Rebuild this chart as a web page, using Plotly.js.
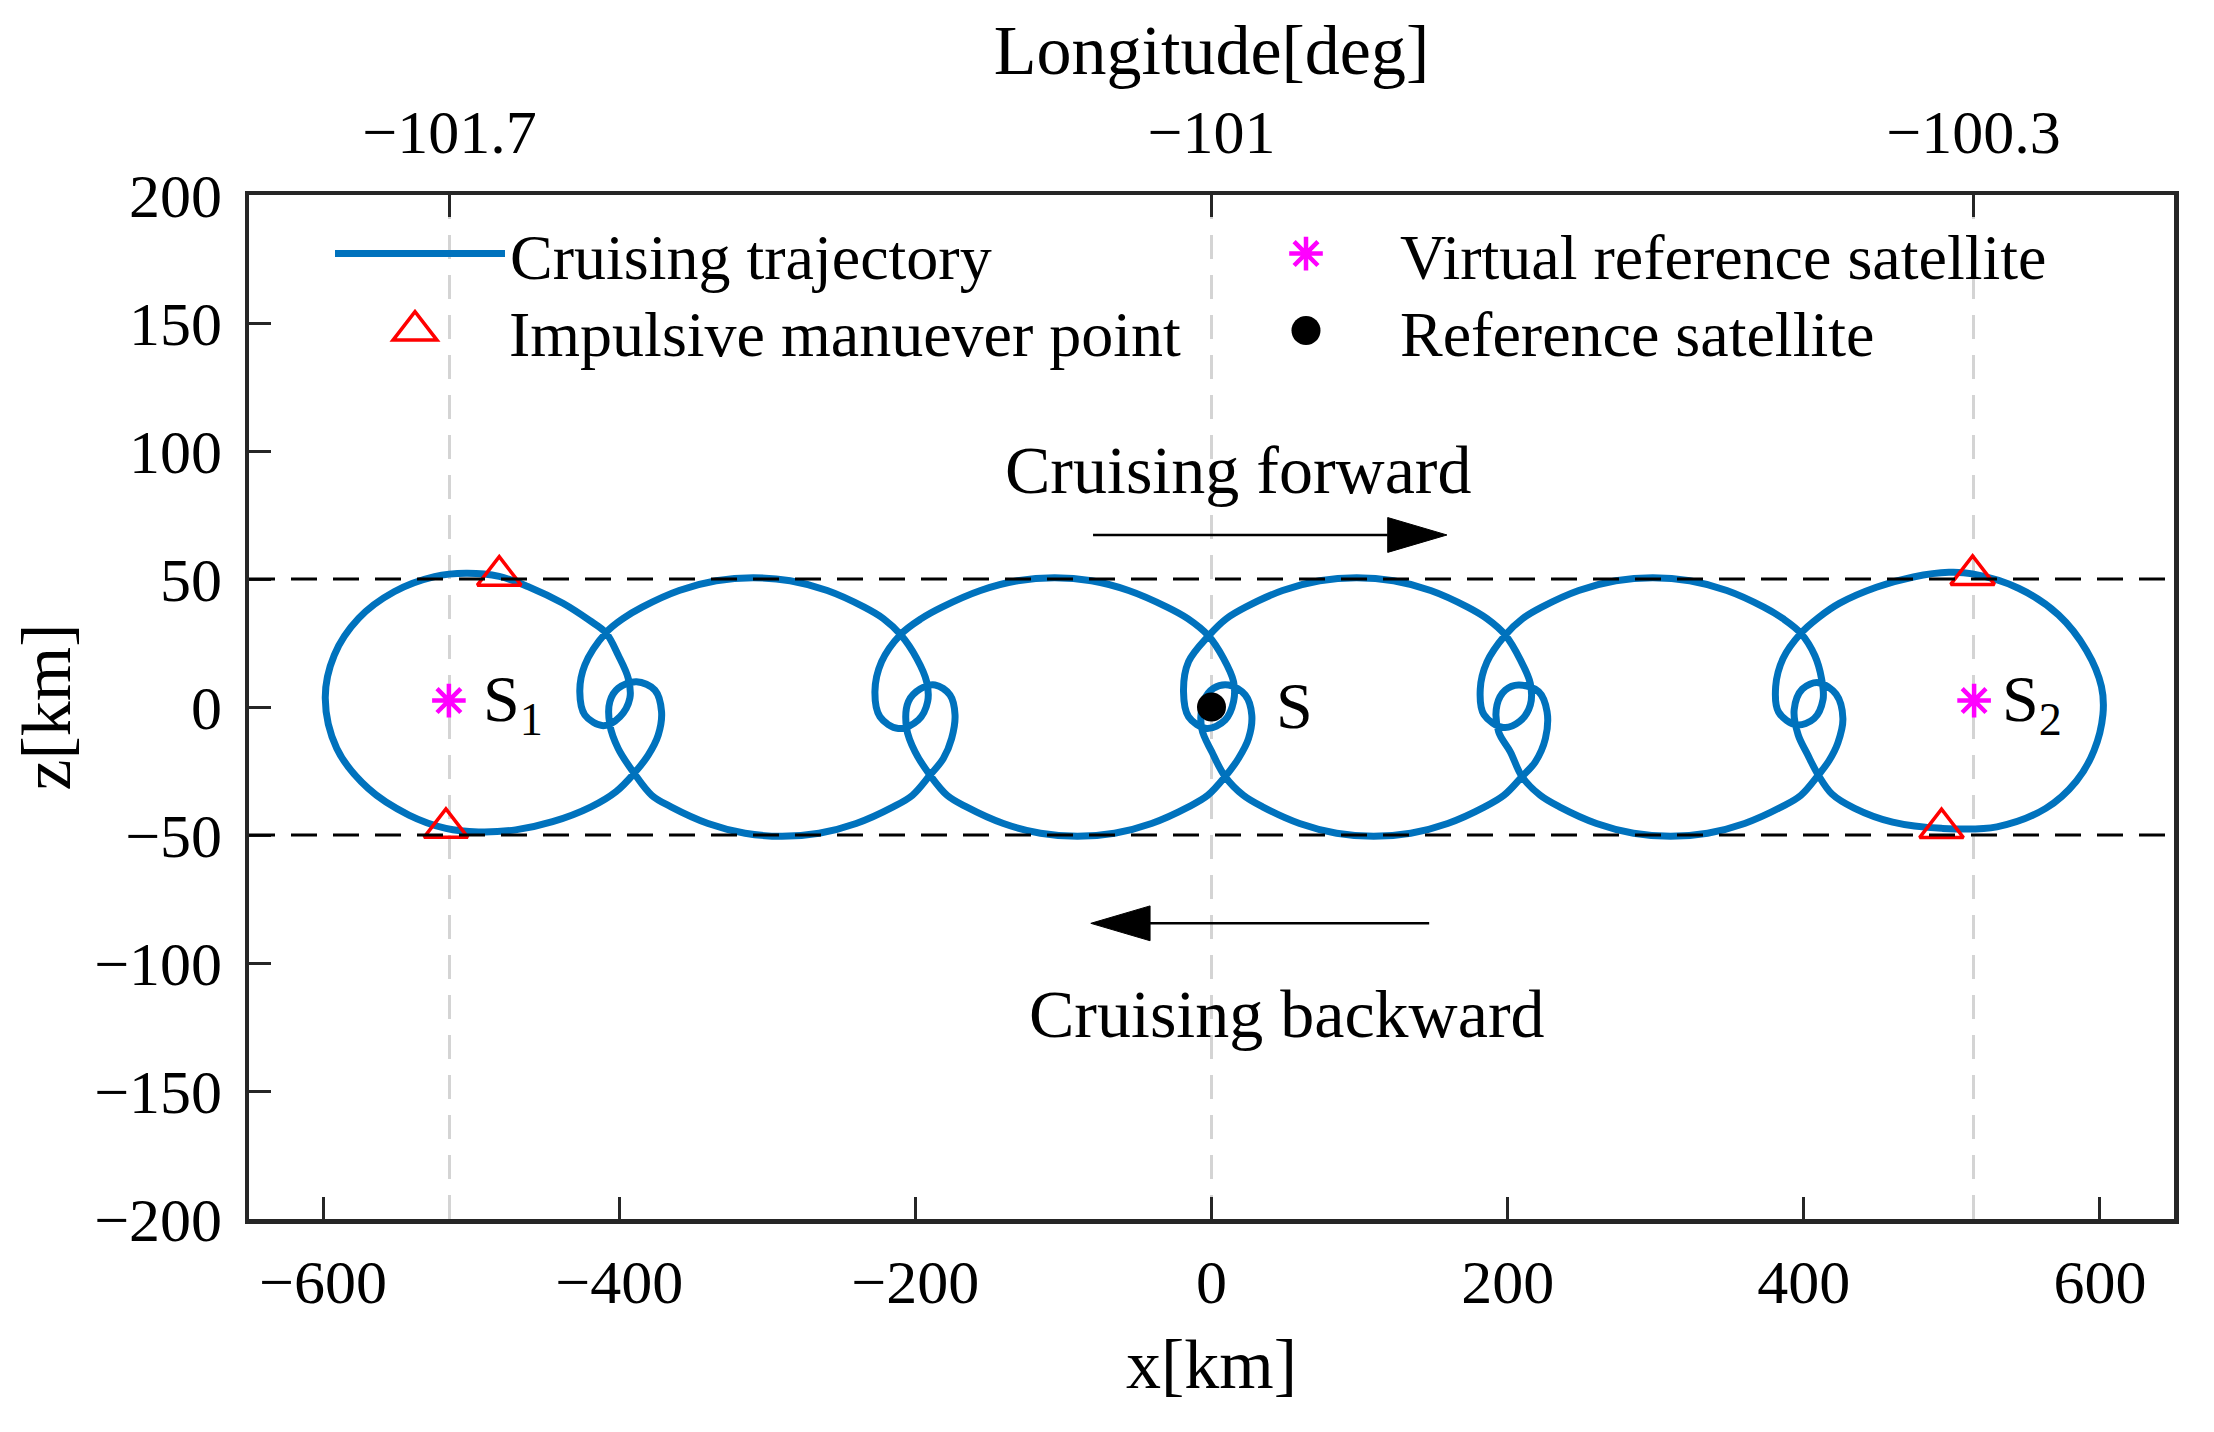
<!DOCTYPE html>
<html><head><meta charset="utf-8">
<script src="https://cdn.plot.ly/plotly-3.0.1.min.js"></script>
<style>body{margin:0;background:#fff}</style>
</head><body>
<div id="chart" style="width:2214px;height:1432px"></div>
<script>
// ---- trajectory as [x km, z km] ----
const leftEnd   = [[-517,-47.4],[-542,-42.2],[-569.5,-31.8],[-590.7,-16.2],[-598.5,3.4],[-592.4,20.3],[-576,34.6],[-552,45],[-524.7,50.9],[-503.4,52.2],[-481,51],[-460.6,46.8],[-438,40.5],[-420,33.8],[-409,29]];
const upLoop1   = [[-400.7,20.3],[-393.9,11.2],[-392.8,3.4],[-399.5,-3.8],[-410.8,-7.3],[-423.2,-3.1],[-426.6,6.0],[-423.2,16.4],[-409,29]];
const topArc2   = [[-397.5,34.5],[-384.5,39],[-359.5,45.5],[-334.5,49.3],[-309.5,50.5],[-284.5,49.3],[-259.5,45.5],[-234.5,39],[-221.5,34.5],[-210,28.3]];
const upLoop2   = [[-199.1,19.0],[-192.4,9.9],[-191.7,2.1],[-198,-5.1],[-211.5,-8.4],[-223.9,-3.8],[-227.3,6.0],[-222.8,17.7],[-210,28.3]];
const topArc3   = [[-196,34.5],[-182,39],[-156,45.5],[-131,49.3],[-106,50.5],[-81,49.3],[-56,45.5],[-30,39],[-16,34.5],[-2,27.8]];
const upLoop3   = [[8.1,19.0],[14.9,9.9],[14.9,2.1],[9.2,-5.1],[-3.2,-8.4],[-15.5,-3.8],[-18.9,6.0],[-15.5,17.7],[-2,27.8]];
const topArc4   = [[10,34.5],[23,39],[48,45.5],[73,49.3],[98,50.5],[123,49.3],[148,45.5],[173,39],[186,34.5],[198.4,28.1]];
const upLoop4   = [[208.6,18.4],[215.3,9.2],[215.3,0.8],[208,-5.7],[197,-8],[184,-3],[181.5,7],[186,17.5],[198.4,28.1]];
const topArc5   = [[210,34.5],[223,39],[248,45.5],[273,49.3],[298,50.5],[323,49.3],[348,45.5],[373,39],[386,34.5],[398,28.8]];
const upLoop5   = [[407.5,20],[412,11],[413,3],[407,-4.5],[395,-7],[383,-2],[381,8],[386,19],[398,28.8]];
const rightEnd  = [[410,35],[424,40.5],[449,46.8],[474,50.8],[498,52.6],[514,52],[545,46.4],[572,36],[591,22],[601,8],[602,-3],[596,-17],[584,-29],[563.4,-39.6],[530.4,-46.8],[493,-47.4],[460,-45],[434,-39.5],[419,-34],[409.8,-26.6]];
const lowLoop5  = [[402.5,-18.5],[396.2,-10.9],[393.5,-1],[399,7],[409.8,9.5],[421.8,5],[426.4,-4.5],[423,-14],[417,-21],[409.8,-26.6]];
const botArc5   = [[398,-34.5],[385,-39],[360,-45.5],[335,-49.3],[310,-50.5],[285,-49.3],[260,-45.5],[235,-39],[222,-34.5],[209.7,-27.2]];
const lowLoop4  = [[201.8,-17.5],[193.9,-9.7],[192.8,0.8],[198.4,6.6],[207.4,8.6],[220.9,6.0],[226.6,-1.8],[225.5,-12.3],[218.7,-21.4],[209.7,-27.2]];
const botArc4   = [[197.5,-34.5],[184.5,-39],[159.5,-45.5],[134.5,-49.3],[109.5,-50.5],[84.5,-49.3],[59.5,-45.5],[34.5,-39],[21.5,-34.5],[9.2,-27.2]];
const lowLoop3  = [[0.2,-17.5],[-6.6,-8.4],[-5.4,2.1],[1.4,7.3],[11.5,8.6],[22.8,4.7],[27.2,-3.1],[25,-12.3],[18.2,-20.1],[9.2,-27.2]];
const botArc3   = [[-2.5,-34.5],[-15.5,-39],[-40.5,-45.5],[-65.5,-49.3],[-90.5,-50.5],[-115.5,-49.3],[-140.5,-45.5],[-165.5,-39],[-178.5,-34.5],[-190.1,-26.6]];
const lowLoop2  = [[-200.2,-17.5],[-205.9,-8.4],[-204.7,2.1],[-196.8,7.0],[-186.7,8.6],[-176.6,4.7],[-173.2,-3.1],[-175.5,-12.3],[-181.1,-20.1],[-190.1,-26.6]];
const botArc2   = [[-202,-34.5],[-215,-39],[-240,-45.5],[-265,-49.3],[-290,-50.5],[-315,-49.3],[-340,-45.5],[-365,-39],[-378,-34.5],[-389.9,-25.9]];
const lowLoop1  = [[-400.7,-16.2],[-406.3,-7.0],[-406.3,2.1],[-400.7,7.3],[-388.3,9.9],[-375.9,6.6],[-371.4,-1.8],[-373.6,-10.9],[-380.4,-18.8],[-389.9,-25.9]];
const botArc1   = [[-402,-33],[-419,-39],[-445,-44.8],[-470,-48],[-495,-48.8],[-517,-47.4]];

// ---- point markers ----
const maneuverX = [-481, -517, 514, 493];
const maneuverZ = [51.3, -47.2, 51.6, -47.3];
const virtualX  = [-515, 515];
const virtualZ  = [2.5, 2.5];
const refX      = [0];
const refZ      = [0];

// ---- labels / ticks ----
const satLabels = ['S<sub>1</sub>', 'S', 'S<sub>2</sub>'];
const satLabelX = [-472, 56, 554];
const satLabelZ = [1.5, 0.5, 1.5];
const xTicks    = [-600, -400, -200, 0, 200, 400, 600];
const zTicks    = [-200, -150, -100, -50, 0, 50, 100, 150, 200];
const lonTicks  = [-101.7, -101, -100.3];
const lonTickText = ['\u2212101.7', '\u2212101', '\u2212100.3'];
const boundaryZ = [50, -50];
const arrowTailX = [-80, 147];
const arrowTipX  = [159, -81.5];
const arrowZ     = [67.2, -84.5];
const arrowText  = ['Cruising forward', 'Cruising backward'];
const arrowTextX = [18, 51];
const arrowTextZ = [92.6, -120];

const segments = [leftEnd, upLoop1, topArc2, upLoop2, topArc3, upLoop3, topArc4, upLoop4, topArc5, upLoop5,
  rightEnd, lowLoop5, botArc5, lowLoop4, botArc4, lowLoop3, botArc3, lowLoop2, botArc2, lowLoop1, botArc1];
const trajX = [], trajZ = [];
segments.forEach(s => s.forEach(p => { trajX.push(p[0]); trajZ.push(p[1]); }));

const xRange = [-650, 650];
const kmPerDeg = 514.6 / 0.7;
const lonRange = xRange.map(v => -101 + v / kmPerDeg);

const FONT = 'Liberation Serif, Times New Roman, serif';
const AX = '#262626';
const BLUE = '#0072BD';

const traces = [
  {x: trajX, y: trajZ, type: 'scatter', mode: 'lines', name: 'Cruising trajectory',
   line: {color: BLUE, width: 7, shape: 'spline', smoothing: 1}, legend: 'legend', hoverinfo: 'skip'},
  {x: maneuverX, y: maneuverZ, type: 'scatter', mode: 'markers', name: 'Impulsive manuever point',
   marker: {symbol: 'triangle-up-open', size: 38, color: '#FF0000', line: {color: '#FF0000', width: 3.5}}, legend: 'legend2'},
  {x: virtualX, y: virtualZ, type: 'scatter', mode: 'markers', name: 'Virtual reference satellite',
   marker: {symbol: 'asterisk-open', size: 28, color: '#FF00FF', line: {color: '#FF00FF', width: 4.5}}, legend: 'legend3'},
  {x: refX, y: refZ, type: 'scatter', mode: 'markers', name: 'Reference satellite',
   marker: {symbol: 'circle', size: 29, color: '#000000'}, legend: 'legend4'},
  {x: lonTicks, y: lonTicks.map(() => 0), xaxis: 'x2', type: 'scatter', mode: 'markers',
   marker: {opacity: 0, size: 1}, showlegend: false, hoverinfo: 'skip'}
];

const shapes = [];
boundaryZ.forEach(z => shapes.push({type: 'line', xref: 'paper', x0: 0, x1: 1, yref: 'y', y0: z, y1: z,
  line: {color: '#000', width: 3, dash: '26px,16px'}, layer: 'above'}));
const headLen = 40, headHalf = 6.8;
arrowTailX.forEach((tx, i) => {
  const tip = arrowTipX[i], z = arrowZ[i], dir = Math.sign(tip - tx);
  const base = tip - dir * headLen;
  shapes.push({type: 'line', xref: 'x', yref: 'y', x0: tx, x1: base, y0: z, y1: z, line: {color: '#000', width: 2.5}});
  shapes.push({type: 'path', xref: 'x', yref: 'y', path: `M${base},${z + headHalf} L${tip},${z} L${base},${z - headHalf} Z`,
    fillcolor: '#000', line: {color: '#000', width: 1}});
});

const annotations = [];
arrowText.forEach((t, i) => annotations.push({text: t, x: arrowTextX[i], y: arrowTextZ[i], xref: 'x', yref: 'y',
  showarrow: false, font: {family: FONT, size: 68, color: '#000'}}));
satLabels.forEach((t, i) => annotations.push({text: t, x: satLabelX[i], y: satLabelZ[i], xref: 'x', yref: 'y',
  showarrow: false, font: {family: FONT, size: 66, color: '#000'}}));

const L = 249, PW = 1925, T = 195, PH = 1024;
const px2x = p => (p - L) / PW, py2y = p => 1 - (p - T) / PH;
function leg(xpx, ypx, w) {
  return {x: px2x(xpx), y: py2y(ypx), xanchor: 'left', yanchor: 'middle', bgcolor: 'rgba(0,0,0,0)', borderwidth: 0,
    itemwidth: w, font: {family: FONT, size: 64, color: '#000'}, itemclick: false};
}

const layout = {
  width: 2214, height: 1432,
  margin: {l: L, r: 40, t: T, b: 213, pad: 0},
  paper_bgcolor: '#fff', plot_bgcolor: '#fff',
  font: {family: FONT, size: 62, color: '#000'},
  showlegend: true,
  legend: leg(330, 254, 170),
  legend2: leg(321, 331, 178),
  legend3: leg(1212, 254, 178),
  legend4: leg(1212, 331, 178),
  xaxis: {range: xRange, tickvals: xTicks, ticks: 'inside', ticklen: 22, tickwidth: 3, tickcolor: AX,
    showline: true, linewidth: 4.5, linecolor: AX, mirror: true, showgrid: false, zeroline: false,
    tickfont: {family: FONT, size: 62, color: '#000'}, ticklabelstandoff: 5,
    title: {text: 'x[km]', font: {family: FONT, size: 70, color: '#000'}, standoff: 25}},
  xaxis2: {overlaying: 'x', side: 'top', anchor: 'y', range: lonRange, tickvals: lonTicks, ticktext: lonTickText,
    ticks: 'inside', ticklen: 22, tickwidth: 3, tickcolor: AX, showline: false,
    showgrid: true, gridcolor: '#d4d4d4', gridwidth: 3, griddash: '24px,16px', zeroline: false,
    tickfont: {family: FONT, size: 62, color: '#000'}, ticklabelstandoff: 29,
    title: {text: 'Longitude[deg]', font: {family: FONT, size: 70, color: '#000'}, standoff: 0}},
  yaxis: {range: [-200, 200], tickvals: zTicks, ticks: 'inside', ticklen: 22, tickwidth: 3, tickcolor: AX,
    showline: true, linewidth: 4.5, linecolor: AX, mirror: true, showgrid: false, zeroline: false,
    tickfont: {family: FONT, size: 62, color: '#000'}, ticklabelstandoff: 10,
    title: {text: 'z[km]', font: {family: FONT, size: 70, color: '#000'}, standoff: 2}},
  shapes: shapes,
  annotations: annotations
};

const legendSize = {'Impulsive manuever point': 38, 'Virtual reference satellite': 28, 'Reference satellite': 29};
Plotly.newPlot('chart', traces, layout, {displayModeBar: false, staticPlot: true}).then(() => {
  document.querySelectorAll('.legendpoints path.scatterpts').forEach(el => {
    const g = el.closest('.traces');
    const d = g && g.__data__;
    const name = d && d[0] && d[0].trace ? d[0].trace.name : null;
    if (name && legendSize[name]) {
      const k = legendSize[name] / 16;
      const tr = el.getAttribute('transform') || '';
      el.setAttribute('transform', tr + ' scale(' + k + ')');
      el.style.vectorEffect = 'non-scaling-stroke';
    }
  });
});
</script>
</body></html>
